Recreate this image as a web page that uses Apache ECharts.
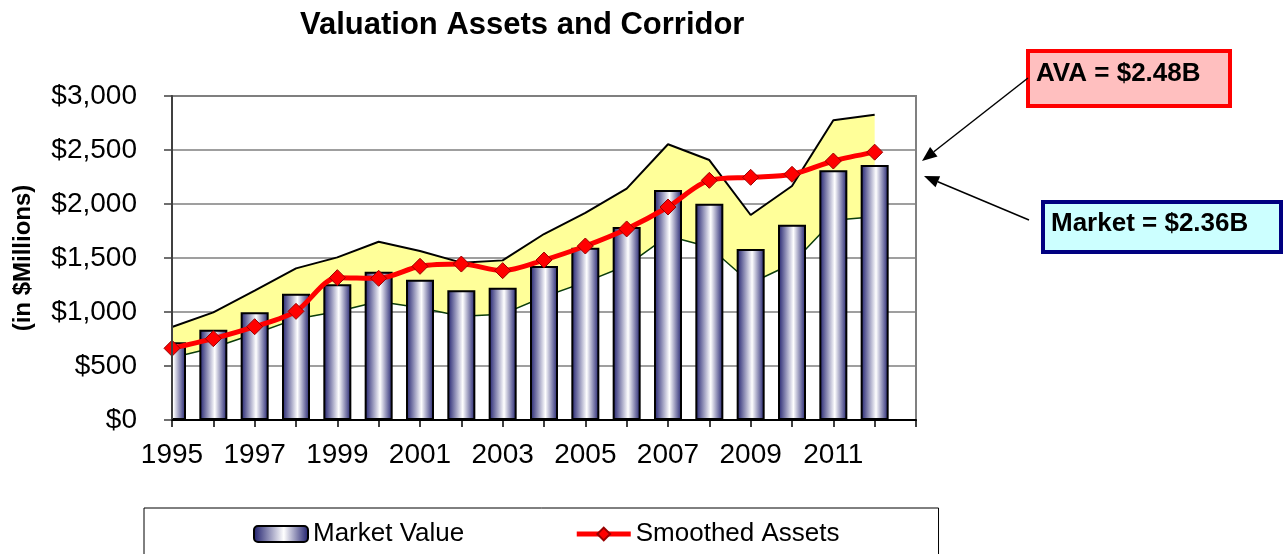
<!DOCTYPE html>
<html><head><meta charset="utf-8">
<script src="https://cdn.jsdelivr.net/npm/echarts@6/dist/echarts.min.js"></script>
<style>html,body{margin:0;padding:0;background:#fff}#c{width:1284px;height:554px}</style>
</head><body><div id="c"></div>
<script>
const years = ['1995','1996','1997','1998','1999','2000','2001','2002','2003','2004','2005','2006','2007','2008','2009','2010','2011','2012'];
const marketValue = [720, 836, 997, 1170, 1256, 1373, 1299, 1201, 1225, 1426, 1596, 1787, 2130, 2003, 1583, 1809, 2312, 2360];
const smoothedAssets = [664, 753, 864, 1006, 1318, 1312, 1423, 1444, 1383, 1481, 1611, 1769, 1972, 2219, 2247, 2275, 2398, 2480];
const corridorUpper = [861, 997, 1198, 1404, 1506, 1651, 1565, 1457, 1478, 1722, 1917, 2142, 2553, 2407, 1898, 2167, 2775, 2827];
const corridorLower = [576, 669, 798, 936, 1005, 1098, 1039, 961, 980, 1141, 1277, 1430, 1704, 1602, 1266, 1447, 1850, 1882];
const yTicks = [0, 500, 1000, 1500, 2000, 2500, 3000];
const titleText = 'Valuation Assets and Corridor';
const yAxisTitle = '(in $Millions)';
const avaLabel = 'AVA = $2.48B';
const marketLabel = 'Market = $2.36B';

const FONT = 'Arial, "Liberation Sans", sans-serif';
const cats = years.concat(['']);
const band = corridorUpper.map((v, i) => v - corridorLower[i]);

function arrow(x1, y1, x2, y2) {
  const ang = Math.atan2(y2 - y1, x2 - x1);
  const L = 15, W = 6;
  const bx = x2 - L * Math.cos(ang), by = y2 - L * Math.sin(ang);
  const px = -Math.sin(ang) * W, py = Math.cos(ang) * W;
  return [
    { type: 'line', shape: { x1: x1, y1: y1, x2: bx, y2: by }, style: { stroke: '#000', lineWidth: 1.5 }, z: 100 },
    { type: 'polygon', shape: { points: [[x2, y2], [bx + px, by + py], [bx - px, by - py]] }, style: { fill: '#000' }, z: 100 }
  ];
}

const chart = echarts.init(document.getElementById('c'), null, { renderer: 'canvas' });
const option = {
  animation: false,
  backgroundColor: '#ffffff',
  textStyle: { fontFamily: FONT },
  title: {
    text: titleText, left: 295, top: 5,
    textStyle: { fontFamily: FONT, fontWeight: 'bold', fontSize: 31, color: '#000' }
  },
  grid: { left: 172, right: 368, top: 96, bottom: 134, show: true, borderColor: '#808080', borderWidth: 2, backgroundColor: 'transparent' },
  legend: {
    data: [
      { name: 'Market Value' },
      { name: 'Smoothed Assets', lineStyle: { width: 5, color: '#FF0000' } }
    ],
    left: 144, top: 508,
    padding: [13, 99, 40, 109],
    itemGap: 110,
    itemWidth: 54, itemHeight: 16,
    borderColor: '#000', borderWidth: 1,
    textStyle: { fontFamily: FONT, fontSize: 26, color: '#000' }
  },
  xAxis: {
    type: 'category', data: cats, boundaryGap: false, z: 10,
    axisLine: { lineStyle: { color: '#000', width: 2 } },
    axisTick: { show: true, interval: 0, length: 7, lineStyle: { color: '#000', width: 1.5 } },
    axisLabel: { interval: 1, margin: 21, fontSize: 28, color: '#000', fontFamily: FONT },
    splitLine: { show: false }
  },
  yAxis: [
    {
      type: 'value', min: 0, max: 3000, interval: 500,
      name: yAxisTitle, nameLocation: 'middle', nameRotate: 90, nameGap: 137,
      nameTextStyle: { fontFamily: FONT, fontWeight: 'bold', fontSize: 24, color: '#000' },
      axisLine: { show: false },
      axisTick: { show: false },
      axisLabel: {
        margin: 35, fontSize: 28, color: '#000', fontFamily: FONT,
        formatter: v => yTicks.indexOf(v) >= 0 ? '$' + v.toLocaleString('en-US') : ''
      },
      splitLine: { show: true, lineStyle: { color: '#7f7f7f', width: 1.5 } }
    },
    {
      type: 'value', min: 0, max: 3000, interval: 500, position: 'left', z: 10,
      axisLine: { show: true, lineStyle: { color: '#404040', width: 2 } },
      axisTick: { show: true, length: 8, lineStyle: { color: '#404040', width: 1.5 } },
      axisLabel: { show: false },
      splitLine: { show: false }
    }
  ],
  series: [
    {
      name: 'Corridor Lower', type: 'line', stack: 'corridor', data: corridorLower,
      symbol: 'none', lineStyle: { color: '#0b3d0b', width: 1.5 },
      areaStyle: { opacity: 0 }, z: 1, silent: true
    },
    {
      name: 'Corridor', type: 'line', stack: 'corridor', data: band,
      symbol: 'none', lineStyle: { color: '#000', width: 2 },
      areaStyle: { color: '#FFFF99', opacity: 1 }, z: 1, silent: true
    },
    {
      name: 'Market Value', type: 'bar', data: marketValue, barWidth: 28, clip: true,
      itemStyle: {
        color: new echarts.graphic.LinearGradient(0, 0, 1, 0, [
          { offset: 0, color: '#1b1b6b' },
          { offset: 0.55, color: '#ffffff' },
          { offset: 1, color: '#1b1b6b' }
        ]),
        borderColor: '#000', borderWidth: 2
      },
      z: 2
    },
    {
      name: 'Smoothed Assets', type: 'line', data: smoothedAssets, smooth: 0.3,
      symbol: 'diamond', symbolSize: 16,
      lineStyle: { color: '#FF0000', width: 5 },
      itemStyle: { color: '#FF0000', borderColor: '#990000', borderWidth: 1 },
      z: 4
    }
  ],
  graphic: [
    { type: 'rect', shape: { x: 145, y: 97, width: 26, height: 324 }, style: { fill: '#ffffff' }, z: 3, silent: true },
    { type: 'rect', shape: { x: 1028, y: 51, width: 202, height: 55 }, style: { fill: '#FFBFBF', stroke: '#FF0000', lineWidth: 4 }, z: 100 },
    { type: 'text', x: 1036, y: 74, style: { text: avaLabel, font: 'bold 26px ' + FONT, fill: '#000', textVerticalAlign: 'middle' }, z: 101 },
    { type: 'rect', shape: { x: 1043, y: 202, width: 238, height: 50 }, style: { fill: '#CCFFFF', stroke: '#000080', lineWidth: 4 }, z: 100 },
    { type: 'text', x: 1051, y: 224, style: { text: marketLabel, font: 'bold 26px ' + FONT, fill: '#000', textVerticalAlign: 'middle' }, z: 101 }
  ].concat(arrow(1028, 78, 922, 161)).concat(arrow(1029, 220, 924, 176))
};
chart.setOption(option);
</script>
</body></html>
